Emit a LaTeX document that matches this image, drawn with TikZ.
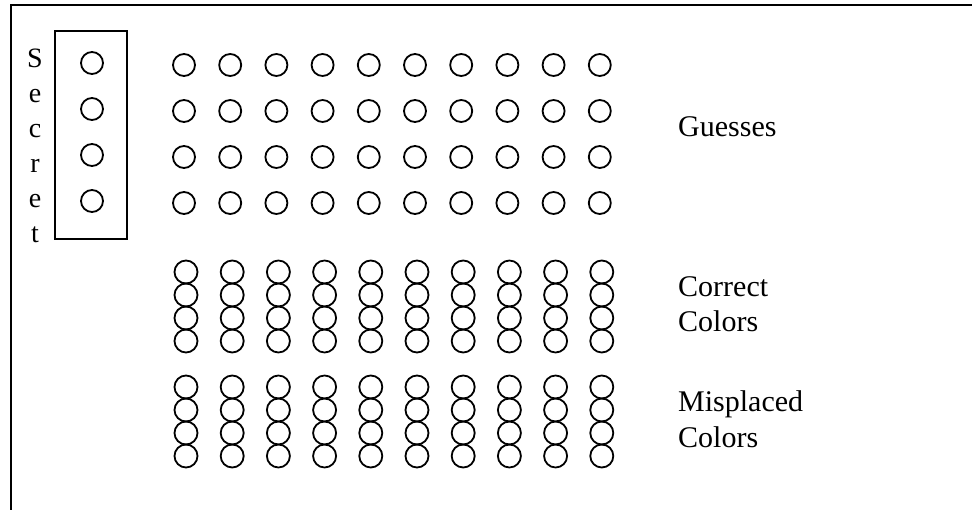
\documentclass[tikz,border=0pt]{standalone}
\usepackage{fontspec}
\setmainfont{Liberation Serif}
\begin{document}
\begin{tikzpicture}[x=1pt,y=-1pt,
  peg/.style={circle,draw,line width=1.8pt,minimum size=22pt,inner sep=0pt},
  keypeg/.style={circle,draw,line width=1.8pt,minimum size=23pt,inner sep=0pt},
  lbl/.style={anchor=base west,inner sep=0pt,font=\fontsize{30}{35}\selectfont},
  sletter/.style={anchor=base,inner sep=0pt,font=\fontsize{28}{32}\selectfont}]
\useasboundingbox (0,0) rectangle (972,510);
% outer frame (only top and left edges visible)
\draw[line width=2pt] (11,512) coordinate (fbl) -- (11,5) coordinate (ftl) -- (975,5) coordinate (ftr);
% secret box
\node[draw,line width=1.5pt,minimum width=72pt,minimum height=208pt,inner sep=0pt] (secretbox) at (91,135) {};
\foreach \j in {0,...,3}{
  \node[peg] (s\j) at (92,{63+46*\j}) {};
}
% Secret letters
\foreach \c [count=\k from 0] in {S,e,c,r,e,t}{
  \node[sletter] (l\k) at (35,{68+35*\k}) {\c};
}
% guesses
\foreach \i in {0,...,9}{
  \foreach \j in {0,...,3}{
    \node[peg] (g\i\j) at ({184+46.2*\i},{65+46*\j}) {};
  }
}
% correct colors
\foreach \i in {0,...,9}{
  \foreach \j in {0,...,3}{
    \node[keypeg] (c\i\j) at ({186+46.2*\i},{272+23*\j}) {};
    \node[keypeg] (m\i\j) at ({186+46.2*\i},{387+23*\j}) {};
  }
}
\node[lbl] (guesses) at (678,137) {Guesses};
\node[lbl] (correct1) at (678,297) {Correct};
\node[lbl] (correct2) at (678,332) {Colors};
\node[lbl] (mis1) at (678,412) {Misplaced};
\node[lbl] (mis2) at (678,447) {Colors};
\end{tikzpicture}
\end{document}
